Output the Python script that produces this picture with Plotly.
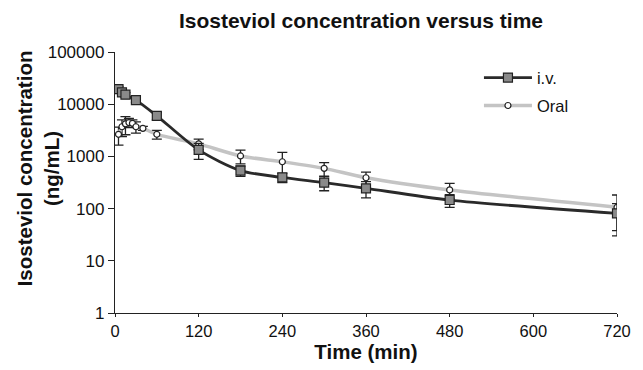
import plotly.graph_objects as go

# i.v. data
iv_time = [5, 10, 15, 30, 60, 120, 180, 240, 300, 360, 480, 720]
iv_conc = [19500, 16900, 15200, 12000, 6000, 1330, 535, 395, 315, 245, 146, 81]
iv_err = [2500, 1500, 1500, 1200, 1000, 450, 120, 80, 95, 85, 40, 43]

# Oral data
oral_time = [5, 10, 15, 20, 25, 30, 40, 60, 120, 180, 240, 300, 360, 480, 720]
oral_conc = [2650, 3700, 4200, 4450, 4300, 3700, 3450, 2650, 1740, 1020, 790, 590, 390, 228, 106]
oral_err = [1000, 1300, 1600, 900, 700, 900, 300, 500, 400, 300, 400, 170, 110, 75, 76]

x_ticks = [0, 120, 240, 360, 480, 600, 720]
y_ticks = [1, 10, 100, 1000, 10000, 100000]
y_tick_labels = ["1", "10", "100", "1000", "10000", "100000"]

fig = go.Figure()

fig.add_trace(go.Scatter(
    x=oral_time, y=oral_conc, name="Oral", mode="lines+markers", legend="legend2",
    line=dict(color="#c4c4c4", width=3.5, shape="spline", smoothing=0.8),
    marker=dict(symbol="circle", size=6, color="white", line=dict(color="#222", width=1.2)),
    error_y=dict(type="data", array=oral_err, visible=True, color="#222", thickness=1.3, width=5),
))

fig.add_trace(go.Scatter(
    x=iv_time, y=iv_conc, name="i.v.", mode="lines+markers", legend="legend",
    line=dict(color="#2a2a2a", width=2.8, shape="spline", smoothing=0.8),
    marker=dict(symbol="square", size=9, color="#8a8a8a", line=dict(color="#222", width=1.2)),
    error_y=dict(type="data", array=iv_err, visible=True, color="#222", thickness=1.3, width=5),
))

font_family = "Liberation Sans, Arial, sans-serif"
leg_common = dict(xanchor="left", yanchor="middle", font=dict(size=16.5, color="#111"),
                  bgcolor="rgba(0,0,0,0)", itemwidth=48)

# page body has an 8px margin, so the figure is drawn 8px smaller and shifted
fig.update_layout(
    width=635, height=362,
    margin=dict(l=107, r=21, t=44, b=56),
    paper_bgcolor="white", plot_bgcolor="white",
    font=dict(family=font_family, size=16.5, color="#111"),
    title=dict(text="<b>Isosteviol concentration versus time</b>", xref="paper", x=0.49, xanchor="center",
               y=0.965, yanchor="middle", font=dict(size=21, color="#111")),
    showlegend=True,
    legend=dict(x=0.725, y=0.901, **leg_common),
    legend2=dict(x=0.725, y=0.794, **leg_common),
    xaxis=dict(range=[0, 720], tickvals=x_ticks, showgrid=False, zeroline=False,
               showline=True, linecolor="#222", linewidth=1.3, ticks="outside", ticklen=3,
               tickcolor="#222", tickfont=dict(size=16.5),
               title=dict(text="<b>Time (min)</b>", font=dict(size=20.5), standoff=4)),
    yaxis=dict(type="log", range=[0, 5], tickvals=y_ticks, ticktext=y_tick_labels,
               showgrid=False, zeroline=False, showline=True, linecolor="#222", linewidth=1.3,
               ticks="outside", ticklen=6, tickcolor="#222", tickfont=dict(size=17)),
    annotations=[dict(text="<b>Isosteviol concentration<br>(ng/mL)</b>", textangle=-90,
                      xref="paper", yref="paper", x=-0.154, y=0.553, xanchor="center", yanchor="middle",
                      showarrow=False, font=dict(size=20.5, color="#111"))],
)

fig.write_html("out.html")
